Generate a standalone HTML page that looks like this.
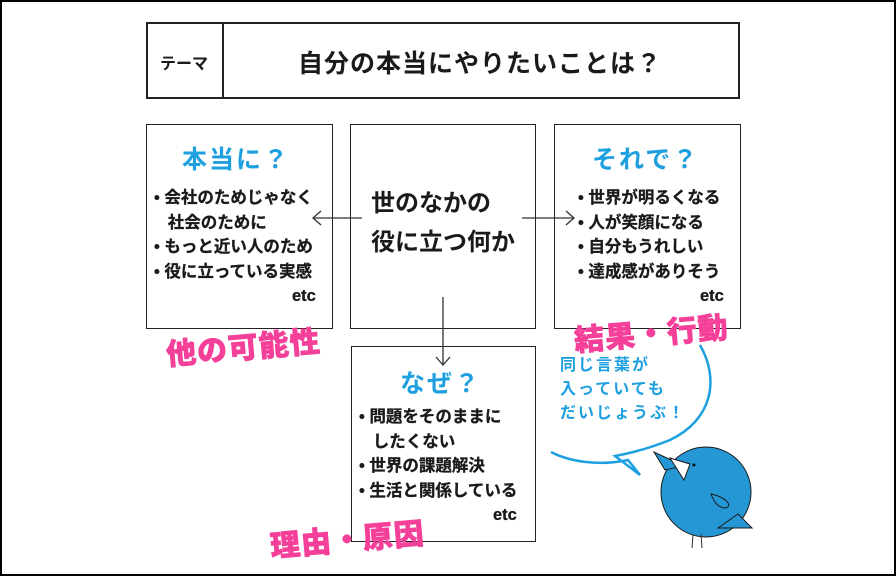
<!DOCTYPE html>
<html><head><meta charset="utf-8"><style>
*{margin:0;padding:0;box-sizing:border-box}
body{width:896px;height:576px;position:relative;background:#fff;overflow:hidden;font-family:"Liberation Sans","Noto Sans CJK JP",sans-serif;font-weight:bold;color:#1a1a1a}
.frame{position:absolute;left:0;top:0;width:896px;height:576px;border:2px solid #000}
.box{position:absolute;border:1.5px solid #222;background:#fff}
.t{position:absolute;white-space:nowrap}
.h{color:#1ea0e0;font-size:25px;letter-spacing:2px}
.li{font-size:16.5px;line-height:24.5px;-webkit-text-stroke:0.3px #1a1a1a}
.pk{color:#f5409a;font-size:30px;font-weight:900;letter-spacing:1px;transform:rotate(-5deg);transform-origin:left center;-webkit-text-stroke:0.6px #f5409a}
.bl{color:#1ea0e0;font-size:16px;line-height:24px;letter-spacing:2px}
</style></head><body>
<div class="frame"></div>
<div class="box" style="left:146px;top:22px;width:594px;height:77px;border-width:2px"></div>
<div style="position:absolute;left:222px;top:22px;width:2px;height:77px;background:#222"></div>
<div class="t" style="left:160px;top:50px;font-size:16px">テーマ</div>
<div class="t" style="left:298px;top:44px;font-size:25px;letter-spacing:1px">自分の本当にやりたいことは？</div>

<div class="box" style="left:146px;top:124px;width:187px;height:205px"></div>
<div class="box" style="left:350px;top:124px;width:186px;height:205px"></div>
<div class="box" style="left:554px;top:124px;width:187px;height:205px"></div>
<div class="box" style="left:351px;top:346px;width:185px;height:196px"></div>

<div class="t h" style="left:182px;top:140px">本当に？</div>
<div class="t li" style="left:154px;top:186px">• 会社のためじゃなく<br>&nbsp;&nbsp;&nbsp;社会のために<br>• もっと近い人のため<br>• 役に立っている実感<br><span style="padding-left:138px">etc</span></div>

<div class="t" style="left:371px;top:184px;font-size:24px;line-height:39px">世のなかの<br>役に立つ何か</div>

<div class="t h" style="left:592px;top:140px">それで？</div>
<div class="t li" style="left:578px;top:186px">• 世界が明るくなる<br>• 人が笑顔になる<br>• 自分もうれしい<br>• 達成感がありそう<br><span style="padding-left:122px">etc</span></div>

<div class="t h" style="left:400px;top:364px">なぜ？</div>
<div class="t li" style="left:359px;top:405px">• 問題をそのままに<br>&nbsp;&nbsp;&nbsp;したくない<br>• 世界の課題解決<br>• 生活と関係している<br><span style="padding-left:134px">etc</span></div>

<svg style="position:absolute;left:0;top:0" width="896" height="576">
<g stroke="#333" stroke-width="1.3" fill="none">
<line x1="362" y1="218" x2="313" y2="218"/><polyline points="321,211 313,218 321,225"/>
<line x1="522" y1="218" x2="574" y2="218"/><polyline points="566,211 574,218 566,225"/>
<line x1="443" y1="297" x2="443" y2="365"/><polyline points="436,357 443,365 450,357"/>
</g>
<path d="M700,345 C720,380 712,420 670,440 C640,452 620,455 615,456 L640,475 L628,460 C600,466 570,462 551,452" stroke="#1ea0e0" stroke-width="2.5" fill="none"/>
<circle cx="706" cy="492" r="45" fill="#2497d4" stroke="#1a1a1a" stroke-width="1"/>
<path d="M738,514 L752,528 L718,528 Z" fill="#2497d4" stroke="#1a1a1a" stroke-width="1"/>
<path d="M665,470 L654,452 L684,466 Z" fill="#2497d4" stroke="#1a1a1a" stroke-width="1"/>
<path d="M670,458 L690,464 L684,480 Z" fill="#fff" stroke="#1a1a1a" stroke-width="1"/>
<circle cx="694" cy="465" r="1.5" fill="#111"/>
<path d="M711,494 C725,497 733,505 726,508 C718,508 714,502 711,494 Z" fill="#2497d4" stroke="#1a1a1a" stroke-width="1"/>
<g stroke="#333" stroke-width="1" fill="none"><line x1="693" y1="534" x2="692" y2="548"/><line x1="701" y1="534" x2="702" y2="548"/></g>
</svg>
<div class="t bl" style="left:560px;top:354px">同じ言葉が<br>入っていても<br>だいじょうぶ！</div>

<div class="t pk" style="left:166px;top:330px">他の可能性</div>
<div class="t pk" style="left:574px;top:316px">結果・行動</div>
<div class="t pk" style="left:270px;top:522px">理由・原因</div>
</body></html>
